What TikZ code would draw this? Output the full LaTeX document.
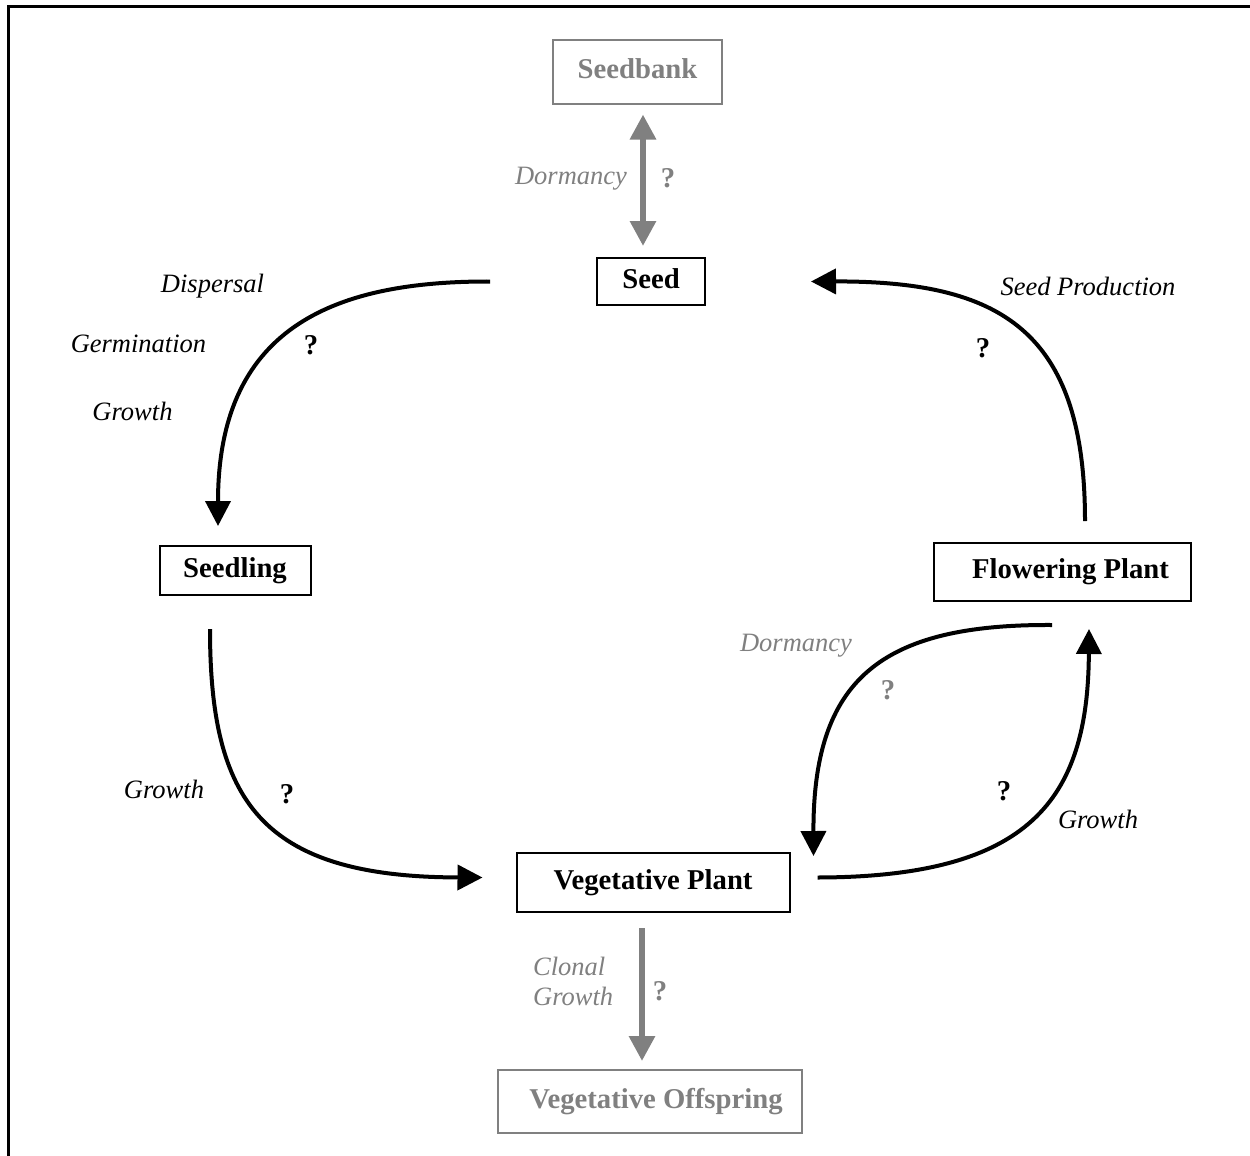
\documentclass[tikz,border=0pt]{standalone}
\usepackage{fontspec}
\setmainfont{Liberation Serif}
\usetikzlibrary{arrows.meta}
\definecolor{mygray}{RGB}{128,128,128}
\tikzset{
  boxfont/.style={font=\fontsize{28.7}{34}\selectfont\bfseries},
  lblfont/.style={font=\fontsize{26.5}{31}\selectfont\itshape},
  stagebox/.style={boxfont, draw=black, line width=2pt, inner sep=0pt,
     text height=20pt, text depth=7pt},
  graybox/.style={stagebox, draw=mygray, text=mygray},
  lbl/.style={lblfont, inner sep=0pt, anchor=base},
  qmark/.style={boxfont, inner sep=0pt, anchor=base},
  flow/.style={line width=4pt, -{Triangle[length=25pt,width=25pt]}},
  grayflow/.style={line width=6pt, draw=mygray, -{Triangle[length=25pt,width=25pt]}},
}
\begin{document}
\begin{tikzpicture}[x=1pt,y=-1pt]
\useasboundingbox (0,0) rectangle (1250,1156);
% frame
\draw[line width=2.5pt] (8.5,1156) -- (8.5,6.5) -- (1250,6.5);
% nodes
\node[graybox, minimum width=169pt, minimum height=63pt] (seedbank) at (637.5,72) {Seedbank};
\node[stagebox, minimum width=108pt, minimum height=47pt] (seed) at (651,281.5) {Seed};
\node[stagebox, minimum width=151pt, minimum height=49pt] (seedling) at (235,570.5) {Seedling};
\node[stagebox, minimum width=257pt, minimum height=58pt] (flower) at (1062.5,572) {\hspace*{16pt}Flowering Plant};
\node[stagebox, minimum width=273pt, minimum height=59pt] (veg) at (653,882.5) {Vegetative Plant};
\node[graybox, minimum width=304pt, minimum height=63pt] (offspring) at (650,1101.5) {\hspace*{12pt}Vegetative Offspring};
% gray arrows
\draw[grayflow, {Triangle[length=25pt,width=25pt]}-{Triangle[length=25pt,width=25pt]}]
  ([shift={(5.5pt,-10pt)}]seedbank.south) -- ([shift={(-8pt,11pt)}]seed.north);
\draw[grayflow] ([shift={(-11pt,-15pt)}]veg.south) -- ([shift={(-8pt,8pt)}]offspring.north);
% black curves
\draw[flow] ([xshift=-106pt]seed.west) .. controls (330,281) and (218,330) .. ([shift={(-17pt,19pt)}]seedling.north);
\draw[flow] ([shift={(-25pt,-33pt)}]seedling.south) .. controls (210,800) and (260,877) .. ([shift={(-33pt,5pt)}]veg.west);
\draw[flow] ([shift={(27pt,5pt)}]veg.east) .. controls (1030,877) and (1088,800) .. ([shift={(26.5pt,-27pt)}]flower.south);
\draw[flow] ([shift={(-10.5pt,-23pt)}]flower.south) .. controls (880,624) and (813,680) .. ([shift={(23pt,-4pt)}]veg.north east);
\draw[flow] ([shift={(22.5pt,21pt)}]flower.north) .. controls (1085,330) and (1000,281) .. ([xshift=105pt]seed.east);
% labels
\node[lbl, text=mygray] (ldorm1) at (571,184) {Dormancy};
\node[qmark, text=mygray] (q1) at (668,187) {?};
\node[lbl] (ldisp) at (212.5,292) {Dispersal};
\node[lbl] (lgerm) at (138.5,352) {Germination};
\node[lbl] (lgrow1) at (132.5,420) {Growth};
\node[qmark] (q2) at (311,354) {?};
\node[lbl] (lseedp) at (1088,295) {Seed Production};
\node[qmark] (q3) at (983,357) {?};
\node[lbl] (lgrow2) at (164,798) {Growth};
\node[qmark] (q4) at (287,803) {?};
\node[lbl, text=mygray] (ldorm2) at (796,651) {Dormancy};
\node[qmark, text=mygray] (q5) at (888,699) {?};
\node[qmark] (q6) at (1004,800) {?};
\node[lbl] (lgrow3) at (1098,828) {Growth};
\node[lblfont, text=mygray, inner sep=0pt, anchor=west, align=left] (lclonal) at (533,981) {Clonal\\[-1pt]Growth};
\node[qmark, text=mygray] (q7) at (660,1000) {?};
\end{tikzpicture}
\end{document}
